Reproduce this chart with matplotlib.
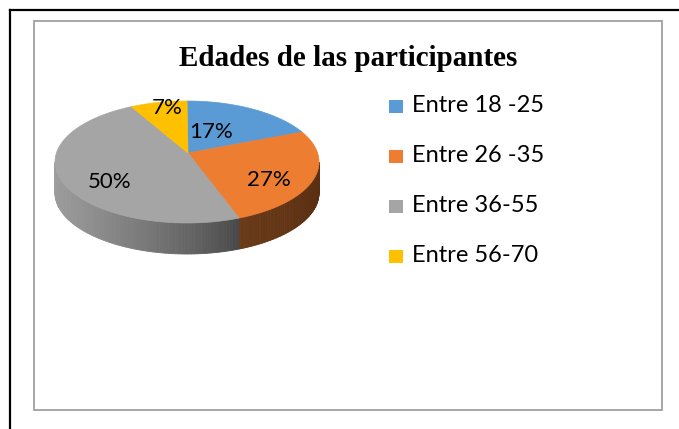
import numpy as np
import matplotlib
matplotlib.use("Agg")
import matplotlib.pyplot as plt
from matplotlib.patches import Polygon, Rectangle
from matplotlib.lines import Line2D

# ---- data ----
categories = ["Entre 18 -25", "Entre 26 -35", "Entre 36-55", "Entre 56-70"]
values = [17, 27, 50, 7]
top_colors = ["#5B9BD5", "#ED7D31", "#A5A5A5", "#FFC000"]
title = "Edades de las participantes"

W, H = 679, 429
fig = plt.figure(figsize=(W / 100, H / 100), dpi=100)
ax = fig.add_axes([0, 0, 1, 1])
ax.set_xlim(0, W)
ax.set_ylim(H, 0)
ax.axis("off")

# frames
ax.add_line(Line2D([10, 10], [10, H], color="black", lw=1.6))
ax.add_line(Line2D([10, W], [10, 10], color="black", lw=1.6))
ax.add_patch(Rectangle((34, 21), 628, 389, fill=False, ec="#a0a0a0", lw=1.3))

ax.text(348, 59, title, ha="center", va="center", fontsize=21,
        fontweight="bold", family="Liberation Serif")

# pie geometry
cx, cy, a, b = 187, 162, 132, 61
apx, apy = 188, 153
depth = 31


def rim(th_deg, dy=0.0):
    t = np.radians(th_deg)
    return cx + a * np.sin(t), cy - b * np.cos(t) + dy


total = float(sum(values))
bounds = np.concatenate([[0], np.cumsum(values) / total * 360.0])


def mix(c1, c2, f):
    c1 = np.array(matplotlib.colors.to_rgb(c1))
    c2 = np.array(matplotlib.colors.to_rgb(c2))
    return tuple(c1 + (c2 - c1) * f)


side_grad = {1: ("#5a2f12", "#6a3a18"), 2: ("#474747", "#9c9c9c"),
             0: ("#2f5f8f", "#2f5f8f"), 3: ("#9a7400", "#9a7400")}

# sides (visible front part: 90..270 deg)
for i in range(len(values)):
    t1, t2 = bounds[i], bounds[i + 1]
    s1, s2 = max(t1, 90), min(t2, 270)
    if s2 <= s1:
        continue
    n = 80
    ths = np.linspace(s1, s2, n + 1)
    ca, cb = side_grad[i]
    for k in range(n):
        ta, tb = ths[k], ths[k + 1]
        xa, ya = rim(ta)
        xb, yb = rim(tb)
        xm = (xa + xb) / 2
        f = np.clip((xm - rim(s1)[0]) / (rim(s2)[0] - rim(s1)[0] + 1e-9), 0, 1)
        col = mix(ca, cb, f ** 0.8)
        poly = [(xa, ya), (xb, yb), (xb, yb + depth), (xa, ya + depth)]
        ax.add_patch(Polygon(poly, closed=True, fc=col, ec=col, lw=0.6))

# top faces
for i in range(len(values)):
    t1, t2 = bounds[i], bounds[i + 1]
    ths = np.linspace(t1, t2, 200)
    pts = [(apx, apy)] + [rim(t) for t in ths]
    ax.add_patch(Polygon(pts, closed=True, fc=top_colors[i], ec=top_colors[i], lw=0.5))

# labels
label_pos = [(211, 132), (269, 180), (110, 182), (167, 108)]
for v, (lx, ly) in zip(values, label_pos):
    ax.text(lx, ly, f"{v}%", ha="center", va="center", fontsize=16,
            family="Lato", color="black")

# legend
for j, (cat, col) in enumerate(zip(categories, top_colors)):
    yy = 106 + 50 * j
    ax.add_patch(Rectangle((389, yy - 6.5), 14, 13, fc=col, ec="none"))
    ax.text(412, yy, cat, ha="left", va="center", fontsize=17,
            family="Lato", color="black")

fig.savefig("out.png", dpi=100)
